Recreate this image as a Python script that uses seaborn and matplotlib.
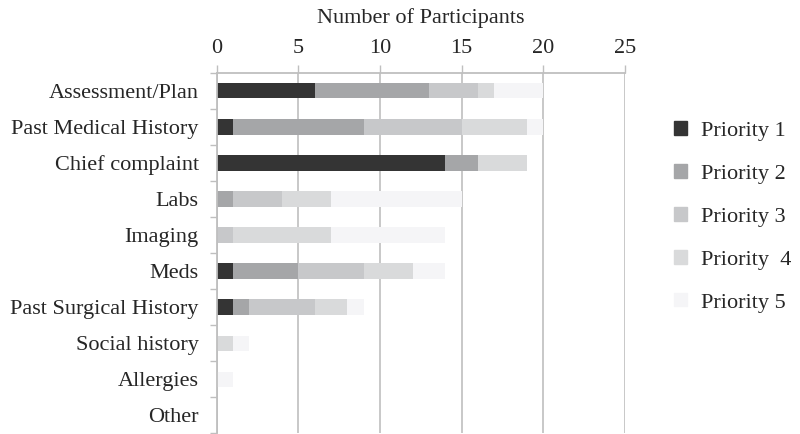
import numpy as np
import pandas as pd
import matplotlib
matplotlib.use("Agg")
import matplotlib.pyplot as plt
import seaborn as sns

categories = ["Assessment/Plan", "Past Medical History", "Chief complaint", "Labs",
              "Imaging", "Meds", "Past Surgical History", "Social history",
              "Allergies", "Other"]
priority_1 = [6, 1, 14, 0, 0, 1, 1, 0, 0, 0]
priority_2 = [7, 8, 2, 1, 0, 4, 1, 0, 0, 0]
priority_3 = [3, 6, 0, 3, 1, 4, 4, 0, 0, 0]
priority_4 = [1, 4, 3, 3, 6, 3, 2, 1, 0, 0]
priority_5 = [3, 1, 0, 8, 7, 2, 1, 1, 1, 0]
series_names = ["Priority 1", "Priority 2", "Priority 3", "Priority  4", "Priority 5"]
colors = ["#343434", "#a5a6a8", "#c7c8ca", "#d9dadb", "#f5f5f7"]

sns.set_style("white")
plt.rcParams["font.family"] = ["Liberation Serif", "DejaVu Serif"]

df = pd.DataFrame({"category": categories,
                   "p1": priority_1, "p2": priority_2, "p3": priority_3,
                   "p4": priority_4, "p5": priority_5})
cols = ["p1", "p2", "p3", "p4", "p5"]
cum = df[cols].cumsum(axis=1)

fig = plt.figure(figsize=(8, 4.34), dpi=100)
ax = fig.add_axes([0.271, 0.002, 0.51, 0.830])

# stacked bars: draw cumulative totals from the outermost layer inward
handles = []
for col, name, color in reversed(list(zip(cols, series_names, colors))):
    sns.barplot(x=cum[col], y=df["category"], order=categories, orient="h",
                color=color, width=0.42, ax=ax, saturation=1, linewidth=0)
for name, color in zip(series_names, colors):
    handles.append(plt.Rectangle((0, 0), 1, 1, color=color, label=name))

ax.set_xlim(0, 25)
ax.set_ylim(9.5, -0.5)
ax.set_xticks([0, 5, 10, 15, 20, 25])
ax.xaxis.tick_top()
ax.xaxis.set_label_position("top")
ax.set_xlabel("Number of Participants", fontsize=16, labelpad=11)
ax.set_ylabel("")
ax.tick_params(axis="x", labelsize=16, length=6, width=1, color="#bfbfbf", pad=5)
ax.tick_params(axis="y", labelsize=16, length=0, pad=13)
ax.set_yticks(np.arange(-0.5, 10.5, 1), minor=True)
ax.tick_params(axis="y", which="minor", length=5, width=1, color="#bfbfbf", left=True)

ax.grid(axis="x", color="#c4c4c4", linewidth=1.3)
ax.set_axisbelow(True)
for side in ["right", "bottom"]:
    ax.spines[side].set_visible(False)
for side in ["left", "top"]:
    ax.spines[side].set_color("#bfbfbf")
    ax.spines[side].set_linewidth(1.3)

fig.legend(handles=handles, loc="center left", bbox_to_anchor=(0.843, 0.50),
           frameon=False, fontsize=16, handlelength=0.55, handleheight=0.55,
           labelspacing=1.05, handletextpad=0.65, borderaxespad=0, borderpad=0)

fig.savefig("out.png", dpi=100)
